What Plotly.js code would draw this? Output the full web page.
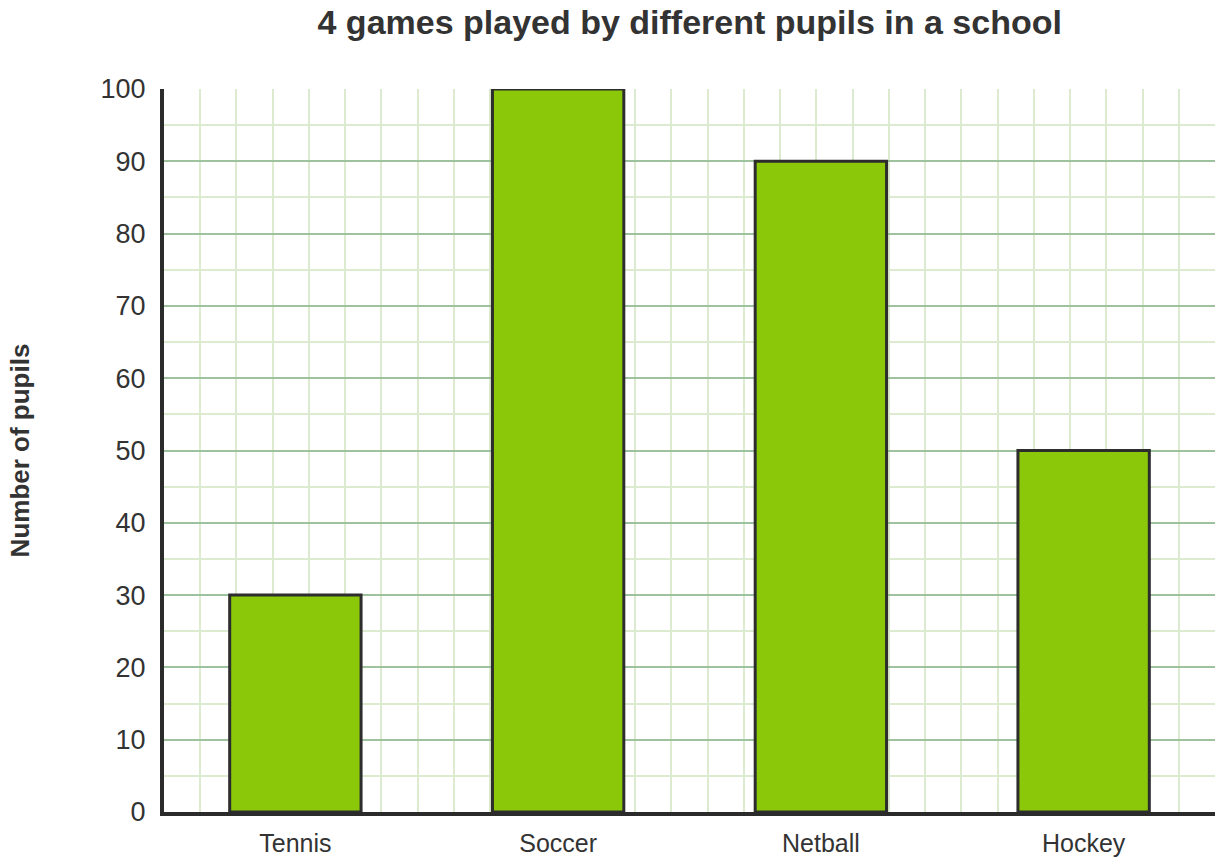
<!DOCTYPE html>
<html>
<head>
<meta charset="utf-8">
<script src="https://cdn.plot.ly/plotly-3.0.1.min.js"></script>
<style>
    html, body { margin: 0; padding: 0; background: #ffffff; }
    #chart { width: 1224px; height: 866px; }
</style>
</head>
<body>
<div id="chart"></div>
<script>
// Number of pupils playing each game.
const games = ['Tennis', 'Soccer', 'Netball', 'Hockey'];
const pupils = [30, 100, 90, 50];

const positions = games.map((g, i) => i);
const font = 'Liberation Sans, Arial, sans-serif';

Plotly.newPlot(document.getElementById('chart'), [
    {
        x: positions,
        y: pupils,
        type: 'bar',
        width: 0.5,
        marker: {
            color: '#8bc80a',
            line: { color: '#2d2d2d', width: 3 }
        },
        hoverinfo: 'x+y'
    }
], {
    title: {
        text: '<b>4 games played by different pupils in a school</b>',
        font: { family: font, size: 34, color: '#333333' },
        x: 0.5635, xanchor: 'center',
        y: 0.975, yanchor: 'middle'
    },
    xaxis: {
        range: [-0.5, 3.5],
        tickvals: positions,
        ticktext: games,
        tickfont: { family: font, size: 25, color: '#333333' },
        showgrid: false,
        zeroline: false,
        showline: true,
        linecolor: '#2b2b2b',
        linewidth: 4,
        ticks: 'outside',
        ticklen: 6,
        tickcolor: 'rgba(0,0,0,0)',
        fixedrange: true,
        minor: { dtick: 4 / 29, tick0: -0.5, showgrid: true, gridcolor: '#dcebd0', gridwidth: 2 }
    },
    yaxis: {
        title: {
            text: '<b>Number of pupils</b>',
            font: { family: font, size: 26, color: '#333333' },
            standoff: 64
        },
        range: [0, 100],
        dtick: 10,
        tickfont: { family: font, size: 27, color: '#333333' },
        gridcolor: '#9dc29d',
        gridwidth: 2,
        zeroline: false,
        showline: true,
        linecolor: '#2b2b2b',
        linewidth: 4,
        ticks: 'outside',
        ticklen: 9,
        tickcolor: 'rgba(0,0,0,0)',
        fixedrange: true,
        minor: { dtick: 5, showgrid: true, gridcolor: '#dcebd0', gridwidth: 2 }
    },
    showlegend: false,
    plot_bgcolor: '#ffffff',
    paper_bgcolor: '#ffffff',
    margin: { l: 164, r: 9, t: 89, b: 54 },
    width: 1224,
    height: 866
}, { displayModeBar: false });
</script>
</body>
</html>
